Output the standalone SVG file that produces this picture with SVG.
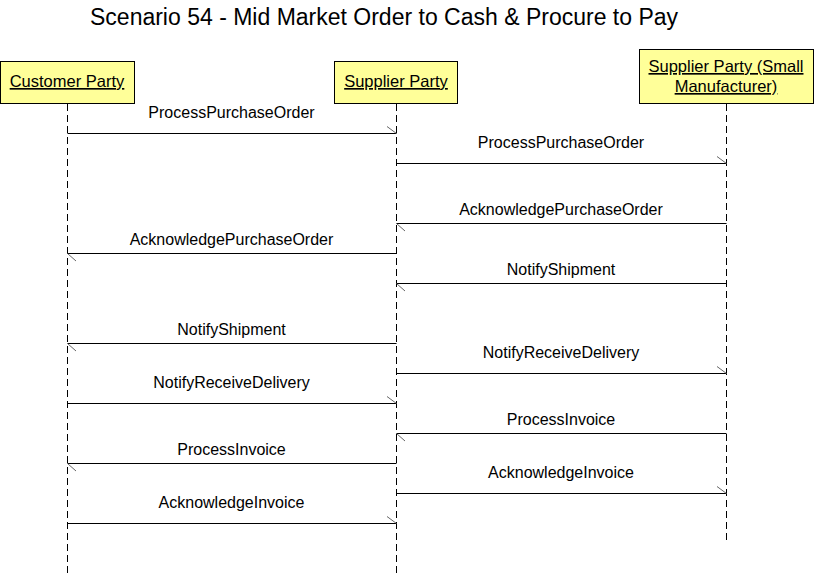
<svg xmlns="http://www.w3.org/2000/svg" width="814" height="575" viewBox="0 0 814 575">
<style>
text{font-family:"Liberation Sans",Arial,sans-serif;fill:#000}
.title{font-size:23px}
.lbl{font-size:16px;text-anchor:middle}
.node{font-size:16.5px;text-anchor:middle;text-decoration:underline}
.box{fill:#FFFF99;stroke:#000;stroke-width:1}
.life{stroke:#000;stroke-width:1;stroke-dasharray:7,4;fill:none}
.msg{stroke:#000;stroke-width:1;fill:none}
.head{stroke:#666;stroke-width:1;fill:none}
</style>
<rect width="814" height="575" fill="#fff"/>
<text class="title" x="90" y="25">Scenario 54 - Mid Market Order to Cash &amp; Procure to Pay</text>
<g id="customer">
<rect class="box" x="0.5" y="61.5" width="134" height="42"/>
<text class="node" x="67" y="87">Customer Party</text>
<line class="life" x1="67.5" y1="104" x2="67.5" y2="575"/>
</g>
<g id="supplier">
<rect class="box" x="334.5" y="61.5" width="123" height="42"/>
<text class="node" x="396" y="87">Supplier Party</text>
<line class="life" x1="396.5" y1="104" x2="396.5" y2="575"/>
</g>
<g id="manufacturer">
<rect class="box" x="639.5" y="49.5" width="174" height="54"/>
<text class="node" x="726" y="72">Supplier Party (Small</text>
<text class="node" x="726" y="92">Manufacturer)</text>
<line class="life" x1="726.5" y1="104" x2="726.5" y2="541"/>
</g>
<g id="connectors">
<line class="msg" x1="67.5" y1="133.5" x2="396.5" y2="133.5"/><path class="head" d="M387,126.5 L396.5,133.5"/>
<text class="lbl" x="231.5" y="118">ProcessPurchaseOrder</text>
<line class="msg" x1="396.5" y1="163.5" x2="726.5" y2="163.5"/><path class="head" d="M717,156.5 L726.5,163.5"/>
<text class="lbl" x="561" y="148">ProcessPurchaseOrder</text>
<line class="msg" x1="726.5" y1="223.5" x2="396.5" y2="223.5"/><path class="head" d="M396.5,223.5 L405,231"/>
<text class="lbl" x="561" y="215">AcknowledgePurchaseOrder</text>
<line class="msg" x1="396.5" y1="253.5" x2="67.5" y2="253.5"/><path class="head" d="M67.5,253.5 L76,261"/>
<text class="lbl" x="231.5" y="245">AcknowledgePurchaseOrder</text>
<line class="msg" x1="726.5" y1="283.5" x2="396.5" y2="283.5"/><path class="head" d="M396.5,283.5 L405,291"/>
<text class="lbl" x="561" y="275">NotifyShipment</text>
<line class="msg" x1="396.5" y1="343.5" x2="67.5" y2="343.5"/><path class="head" d="M67.5,343.5 L76,351"/>
<text class="lbl" x="231.5" y="335">NotifyShipment</text>
<line class="msg" x1="396.5" y1="373.5" x2="726.5" y2="373.5"/><path class="head" d="M717,366.5 L726.5,373.5"/>
<text class="lbl" x="561" y="358">NotifyReceiveDelivery</text>
<line class="msg" x1="67.5" y1="403.5" x2="396.5" y2="403.5"/><path class="head" d="M387,396.5 L396.5,403.5"/>
<text class="lbl" x="231.5" y="388">NotifyReceiveDelivery</text>
<line class="msg" x1="726.5" y1="433.5" x2="396.5" y2="433.5"/><path class="head" d="M396.5,433.5 L405,441"/>
<text class="lbl" x="561" y="425">ProcessInvoice</text>
<line class="msg" x1="396.5" y1="463.5" x2="67.5" y2="463.5"/><path class="head" d="M67.5,463.5 L76,471"/>
<text class="lbl" x="231.5" y="455">ProcessInvoice</text>
<line class="msg" x1="396.5" y1="493.5" x2="726.5" y2="493.5"/><path class="head" d="M717,486.5 L726.5,493.5"/>
<text class="lbl" x="561" y="478">AcknowledgeInvoice</text>
<line class="msg" x1="67.5" y1="523.5" x2="396.5" y2="523.5"/><path class="head" d="M387,516.5 L396.5,523.5"/>
<text class="lbl" x="231.5" y="508">AcknowledgeInvoice</text>
</g>
</svg>
